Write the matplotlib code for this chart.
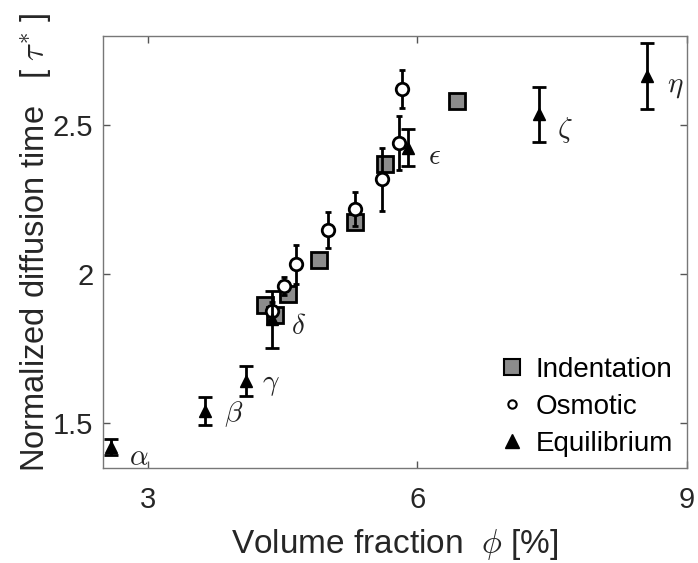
import matplotlib
matplotlib.use("Agg")
import matplotlib.pyplot as plt
from matplotlib.lines import Line2D

plt.rcParams['font.family'] = ['Liberation Sans', 'DejaVu Sans']
plt.rcParams['mathtext.fontset'] = 'cm'

# Indentation (squares, no error bars)
ind_x = [4.30, 4.41, 4.56, 4.90, 5.30, 5.64, 6.44]
ind_y = [1.896, 1.862, 1.933, 2.047, 2.175, 2.368, 2.580]

# Osmotic (circles)
osm_x = [4.38, 4.52, 4.65, 5.00, 5.31, 5.61, 5.79, 5.83]
osm_y = [1.876, 1.960, 2.033, 2.148, 2.218, 2.318, 2.441, 2.622]
osm_err = [0.03, 0.03, 0.065, 0.06, 0.057, 0.105, 0.09, 0.063]

# Equilibrium (triangles)
eq_x = [2.59, 3.64, 4.09, 4.38, 5.90, 7.35, 8.56]
eq_y = [1.420, 1.541, 1.642, 1.849, 2.425, 2.536, 2.664]
eq_err = [0.027, 0.047, 0.050, 0.095, 0.062, 0.093, 0.111]
eq_labels = [r'$\alpha$', r'$\beta$', r'$\gamma$', r'$\delta$', r'$\epsilon$', r'$\zeta$', r'$\eta$']
label_offsets = [(20, -7), (20, -2), (18, -2), (19, -5), (19, -6), (19, -11), (20, -7)]

xticks = [3, 6, 9]
yticks = [1.5, 2, 2.5]

fig = plt.figure(figsize=(6.98, 5.63), dpi=100)
ax = fig.add_axes([0.1476, 0.1687, 0.9842 - 0.1476, 0.9366 - 0.1687])

ax.plot(ind_x, ind_y, 's', ms=12, mfc='#8c8c8c', mec='black', mew=2, zorder=2)
ax.errorbar(osm_x, osm_y, yerr=osm_err, fmt='o', ms=9, mfc='white', mec='black', mew=2,
            ecolor='black', elinewidth=2, capsize=2, capthick=2, zorder=3)
ax.errorbar(eq_x, eq_y, yerr=eq_err, fmt='^', ms=9, mfc='black', mec='black',
            ecolor='black', elinewidth=2, capsize=5, capthick=2, zorder=4)

for x, y, lab, off in zip(eq_x, eq_y, eq_labels, label_offsets):
    ax.annotate(lab, (x, y), xytext=off, textcoords='offset points',
                ha='center', va='center', fontsize=21, color='#222222')

ax.set_xlim(2.5, 9)
ax.set_ylim(1.35, 2.8)
ax.set_xticks(xticks)
ax.set_xticklabels([str(t) for t in xticks])
ax.set_yticks(yticks)
ax.set_yticklabels(['1.5', '2', '2.5'])
ax.tick_params(direction='in', length=5, width=1, top=True, right=True,
               labelsize=21, colors='#555555', labelcolor='#262626')
ax.tick_params(axis='x', pad=13)
ax.tick_params(axis='y', pad=7)
for s in ax.spines.values():
    s.set_color('#777777')
    s.set_linewidth(1)

ax.set_xlabel(r'Volume fraction  $\phi$ [%]', fontsize=24, color='#262626', labelpad=9)
ax.set_ylabel(r'Normalized diffusion time   [ $\tau^{*}$ ]', fontsize=23.5, color='#262626')
ax.yaxis.set_label_coords(-0.086, 0.522)

handles = [
    Line2D([], [], marker='s', ls='none', ms=12, mfc='#8c8c8c', mec='black', mew=1.5),
    Line2D([], [], marker='o', ls='none', ms=6, mfc='white', mec='black', mew=1.5),
    Line2D([], [], marker='^', ls='none', ms=10, mfc='black', mec='black'),
]
ax.legend(handles, ['Indentation', 'Osmotic', 'Equilibrium'], loc='lower right',
          frameon=False, fontsize=20, handletextpad=0.35, labelspacing=0.4,
          handlelength=1.0, borderaxespad=0.0, borderpad=0.4,
          bbox_to_anchor=(0.995, 0.0))

fig.savefig('out.png', dpi=100)
